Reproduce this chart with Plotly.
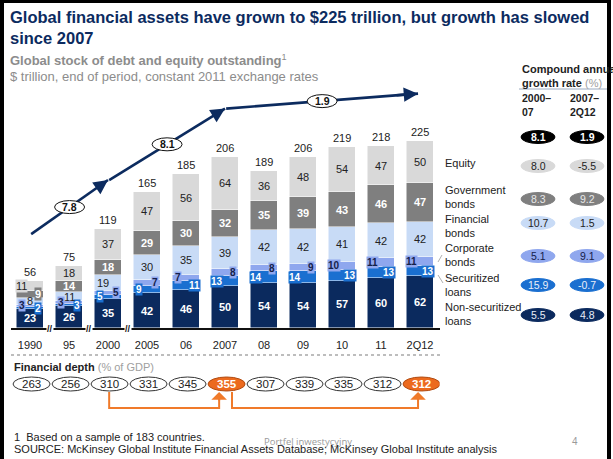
import plotly.graph_objects as go

W, H = 613, 459

# ---- data -------------------------------------------------------------
years = ["1990", "95", "2000", "2005", "06", "2007", "08", "09", "10", "11", "2Q12"]
totals = [56, 75, 119, 165, 185, 206, 189, 206, 219, 218, 225]

non_securitized = [23, 26, 35, 42, 46, 50, 54, 54, 57, 60, 62]
securitized = [2, 3, 5, 9, 11, 13, 14, 14, 13, 13, 13]
corporate = [3, 3, 5, 7, 7, 8, 8, 9, 10, 11, 11]
financial = [8, 11, 19, 30, 35, 39, 42, 42, 41, 42, 42]
government = [9, 14, 18, 29, 30, 32, 35, 39, 43, 46, 47]
equity = [11, 18, 37, 47, 56, 64, 36, 48, 54, 47, 50]

period_cagr = [7.8, 8.1, 1.9]          # 1990-2000, 2000-07, 2007-2Q12
period_bounds = [(0, 2), (2, 5), (5, 10)]

cagr_labels = ["Total", "Equity", "Government<br>bonds", "Financial<br>bonds",
               "Corporate<br>bonds", "Securitized<br>loans", "Non-securitized<br>loans"]
cagr_2000_07 = [8.1, 8.0, 8.3, 10.7, 5.1, 15.9, 5.5]
cagr_2007_2q12 = [1.9, -5.5, 9.2, 1.5, 9.1, -0.7, 4.8]

fin_depth = [263, 256, 310, 331, 345, 355, 307, 339, 335, 312, 312]
fin_depth_highlight = [5, 10]

# ---- styling ----------------------------------------------------------
FONT = "Liberation Sans, Arial, sans-serif"
NAVY = "#0c2b5f"
C_NON = "#0b2a5e"
C_SEC = "#1a6fd0"
C_CORP = "#8fa7ee"
C_FIN = "#c8dbf6"
C_GOV = "#7f7f7f"
C_EQ = "#d9d9d9"
ORANGE = "#ec6a1e"

series = [
    # name, values, colour, text colour, bold
    ("Non-securitized<br>loans", non_securitized, C_NON, "white", True),
    ("Securitized<br>loans", securitized, C_SEC, "white", True),
    ("Corporate<br>bonds", corporate, C_CORP, "#14204a", True),
    ("Financial<br>bonds", financial, C_FIN, "#222222", False),
    ("Government<br>bonds", government, C_GOV, "white", True),
    ("Equity", equity, C_EQ, "#222222", False),
]

# horizontal placement of segment labels (0 = centred, -1 left, +1 right)
sec_side = [1, 1, -1, -1, 1, -1, -1, -1, 1, 1, 1]
label_side = {
    "Non-securitized<br>loans": [0] * 11,
    "Securitized<br>loans": sec_side,
    "Corporate<br>bonds": [-s for s in sec_side],
    "Financial<br>bonds": [0, 0, -0.6, 0, 0, 0, 0, 0, 0, 0, 0],
    "Government<br>bonds": [1, 0, 0, 0, 0, 0, 0, 0, 0, 0, 0],
    "Equity": [-1, 0, 0, 0, 0, 0, 0, 0, 0, 0, 0],
}
boxed = {"Securitized<br>loans", "Corporate<br>bonds"}


def fx(px):
    return px / W


def fy(py):
    return 1 - py / H


BASE_PY = 328        # baseline of the bars (pixels from top)
TOP_PY = 90
PX_PER_UNIT = 187 / 225
Y_MAX = (BASE_PY - TOP_PY) / PX_PER_UNIT

fig = go.Figure()
xs = list(range(len(years)))
for name, vals, col, tcol, bold in series:
    fig.add_trace(go.Bar(
        x=xs, y=vals, name=name, width=0.69,
        marker=dict(color=col, line=dict(color="white", width=0.5)),
        hoverinfo="skip", showlegend=False,
    ))

annotations = []
shapes = []

# segment value labels
base = [0] * len(years)
for name, vals, col, tcol, bold in series:
    for i, v in enumerate(vals):
        side = label_side[name][i]
        yc = base[i] + v / 2
        txt = f"<b>{v}</b>" if bold else str(v)
        ann = dict(x=i + side * 0.21, y=yc, xref="x", yref="y", text=txt,
                   showarrow=False, font=dict(family=FONT, size=10 if name in boxed else 11, color=tcol))
        if name in boxed or (side != 0 and name != "Financial<br>bonds"):
            ann.update(bgcolor=col, borderpad=0)
        annotations.append(ann)
        base[i] += v

# totals above bars
for i, t in enumerate(totals):
    annotations.append(dict(x=i, y=base[i], xref="x", yref="y", text=str(t), showarrow=False,
                            yshift=9, font=dict(family=FONT, size=11, color="#222222")))

# axis breaks
for bx in [0.5, 1.5, 2.5]:
    annotations.append(dict(x=bx, y=0, xref="x", yref="y", text="<b>//</b>", showarrow=False,
                            bgcolor="white", borderpad=0, yshift=-1,
                            font=dict(family=FONT, size=9, color="#111111")))

# growth trend: lines, arrowheads and CAGR ovals
arrow_y = {0: 113, 2: 178, 5: 264, 10: 282}
for (a, b), g in zip(period_bounds, period_cagr):
    x0 = a + 0.03
    x1 = b - 0.05 if b == 10 else b
    y0, y1 = arrow_y[a], arrow_y[b]
    shapes.append(dict(type="line", xref="x", yref="y", x0=x0, y0=y0, x1=x1, y1=y1,
                       line=dict(color=NAVY, width=2.6), layer="above"))
    tx, ty = x1 - (x1 - x0) * 0.12, y1 - (y1 - y0) * 0.12
    annotations.append(dict(x=x1, y=y1, ax=tx, ay=ty, xref="x", yref="y", axref="x", ayref="y",
                            text="", showarrow=True, arrowhead=2, arrowsize=1.1, arrowwidth=2.6,
                            arrowcolor=NAVY, standoff=0, startstandoff=0))
    xm, ym = (x0 + x1) / 2, (y0 + y1) / 2
    hw, hh = 15 / 39, 6.5 / PX_PER_UNIT
    shapes.append(dict(type="circle", xref="x", yref="y", x0=xm - hw, x1=xm + hw,
                       y0=ym - hh, y1=ym + hh, fillcolor="white",
                       line=dict(color="#111111", width=1), layer="above"))
    annotations.append(dict(x=xm, y=ym, xref="x", yref="y", text=f"<b>{g}</b>", showarrow=False,
                            font=dict(family=FONT, size=10.5, color="#111111")))

# ---- titles -----------------------------------------------------------
annotations += [
    dict(x=fx(8), y=fy(17), xref="paper", yref="paper", xanchor="left",
         text="<b>Global financial assets have grown to $225 trillion, but growth has slowed</b>",
         showarrow=False, font=dict(family=FONT, size=16.5, color=NAVY)),
    dict(x=fx(8), y=fy(38), xref="paper", yref="paper", xanchor="left",
         text="<b>since 2007</b>", showarrow=False, font=dict(family=FONT, size=16.5, color=NAVY)),
    dict(x=fx(8), y=fy(60), xref="paper", yref="paper", xanchor="left",
         text="<b>Global stock of debt and equity outstanding</b><sup>1</sup>", showarrow=False,
         font=dict(family=FONT, size=13, color="#8c8c8c")),
    dict(x=fx(8), y=fy(76), xref="paper", yref="paper", xanchor="left",
         text="$ trillion, end of period, constant 2011 exchange rates", showarrow=False,
         font=dict(family=FONT, size=13, color="#8c8c8c")),
]

# ---- CAGR panel -------------------------------------------------------
annotations += [
    dict(x=fx(520), y=fy(76), xref="paper", yref="paper", xanchor="left",
         text="<b>Compound annual</b><br><b>growth rate</b> <span style='color:#a0a0a0'>(%)</span>",
         showarrow=False, align="left", font=dict(family=FONT, size=11, color="#222222")),
    dict(x=fx(520), y=fy(105), xref="paper", yref="paper", xanchor="left",
         text="<b>2000–</b><br><b>07</b>", showarrow=False, align="left",
         font=dict(family=FONT, size=10.5, color="#222222")),
    dict(x=fx(568), y=fy(105), xref="paper", yref="paper", xanchor="left",
         text="<b>2007–</b><br><b>2Q12</b>", showarrow=False, align="left",
         font=dict(family=FONT, size=10.5, color="#222222")),
]
shapes.append(dict(type="line", xref="paper", yref="paper", x0=fx(519), x1=fx(608),
                   y0=fy(89), y1=fy(89), line=dict(color="#9aaac0", width=1)))

row_py = [137, 166, 199, 223, 256, 285, 315]
label_py = [None, 163, 197, 226, 255, 285, 314]
row_fill = ["#000000", C_EQ, C_GOV, C_FIN, C_CORP, C_SEC, C_NON]
row_text = ["white", "#222222", "#e8e8e8", "#222222", "#14204a", "#e8eef8", "#e8eef8"]
col_px = [538, 587]
for r, (lab, a, b) in enumerate(zip(cagr_labels, cagr_2000_07, cagr_2007_2q12)):
    if label_py[r] is not None:
        annotations.append(dict(x=fx(443), y=fy(label_py[r]), xref="paper", yref="paper",
                                xanchor="left", align="left", text=lab,
                                showarrow=False, font=dict(family=FONT, size=11, color="#222222")))
    for cx, v in zip(col_px, (a, b)):
        shapes.append(dict(type="circle", xref="paper", yref="paper",
                           x0=fx(cx - 17), x1=fx(cx + 17), y0=fy(row_py[r] + 6.5), y1=fy(row_py[r] - 6.5),
                           fillcolor=row_fill[r], line=dict(color=row_fill[r], width=1)))
        txt = f"{v:.1f}"
        if r == 0:
            txt = f"<b>{txt}</b>"
        annotations.append(dict(x=fx(cx), y=fy(row_py[r]), xref="paper", yref="paper",
                                text=txt, showarrow=False,
                                font=dict(family=FONT, size=10.5, color=row_text[r])))

# leader lines from the small 2Q12 segments to their labels
shapes += [
    dict(type="line", xref="paper", yref="paper", x0=fx(438), y0=fy(262), x1=fx(442), y1=fy(255),
         line=dict(color="#9a9a9a", width=0.8)),
    dict(type="line", xref="paper", yref="paper", x0=fx(438), y0=fy(275), x1=fx(443), y1=fy(283),
         line=dict(color="#9a9a9a", width=0.8)),
]

# ---- financial depth row ---------------------------------------------
shapes.append(dict(type="line", xref="paper", yref="paper", x0=fx(11), x1=fx(443),
                   y0=fy(355), y1=fy(355), line=dict(color="#a8a8a8", width=1.5, dash="dot")))
annotations.append(dict(x=fx(12), y=fy(367), xref="paper", yref="paper", xanchor="left",
                        showarrow=False,
                        text="<b>Financial depth</b> <span style='color:#a0a0a0'>(% of GDP)</span>",
                        font=dict(family=FONT, size=11, color="#222222")))
OV_PY = 384
for i, d in enumerate(fin_depth):
    hi = i in fin_depth_highlight
    cx = i + 0.04
    shapes.append(dict(type="circle", xref="x", yref="paper", x0=cx - 0.475, x1=cx + 0.475,
                       y0=fy(OV_PY + 7), y1=fy(OV_PY - 7),
                       fillcolor=ORANGE if hi else "white",
                       line=dict(color="#b04a10" if hi else "#333333", width=1)))
    annotations.append(dict(x=cx, y=fy(OV_PY), xref="x", yref="paper", showarrow=False,
                            text=f"<b>{d}</b>" if hi else str(d),
                            font=dict(family=FONT, size=11.5, color="white" if hi else "#222222")))

# connectors 2000 -> 2007 -> 2Q12
LINE_OR = "#f07a2a"
for xa, xb in [(2.03, 4.85), (5.18, 9.95)]:
    shapes.append(dict(type="path", xref="x", yref="paper",
                       path=f"M {xa},{fy(392)} L {xa},{fy(408)} L {xb},{fy(408)} L {xb},{fy(396)}",
                       line=dict(color=LINE_OR, width=2)))
    annotations.append(dict(x=xb, y=fy(392), xref="x", yref="paper", ax=0, ay=10, text="",
                            showarrow=True, arrowhead=1, arrowsize=1.3, arrowwidth=2,
                            arrowcolor=LINE_OR, standoff=0))

# ---- footer -----------------------------------------------------------
annotations += [
    dict(x=fx(12), y=fy(437), xref="paper", yref="paper", xanchor="left",
         text="1  Based on a sample of 183 countries.", showarrow=False,
         font=dict(family=FONT, size=11, color="#222222")),
    dict(x=fx(12), y=fy(449), xref="paper", yref="paper", xanchor="left",
         text="SOURCE: McKinsey Global Institute Financial Assets Database; McKinsey Global Institute analysis",
         showarrow=False, font=dict(family=FONT, size=11, color="#222222")),
    dict(x=fx(308), y=fy(441), xref="paper", yref="paper", showarrow=False,
         text="Portfel inwestycyjny", font=dict(family="Open Sans, sans-serif", size=9.5, color="#9a9a9a")),
    dict(x=fx(575), y=fy(441), xref="paper", yref="paper", showarrow=False,
         text="4", font=dict(family=FONT, size=10, color="#9a9a9a")),
]

# anchor every text at its given point
for ann in annotations:
    ann.setdefault("xanchor", "center")
    ann.setdefault("yanchor", "middle")

# slide frame
for x0, x1, y0, y1 in [(0, 4, 0, H), (0, 611, 0, 3), (607, 611, 0, H)]:
    shapes.append(dict(type="rect", xref="paper", yref="paper", x0=fx(x0), x1=fx(x1),
                       y0=fy(y1), y1=fy(y0), fillcolor="black", line=dict(width=0), layer="above"))

fig.update_layout(
    width=W, height=H, margin=dict(l=0, r=0, t=0, b=0),
    paper_bgcolor="white", plot_bgcolor="white",
    barmode="stack", bargap=0,
    xaxis=dict(domain=[fx(10.5), fx(439.5)], range=[-0.5, 10.5], tickmode="array",
               tickvals=xs, ticktext=years, showgrid=False, zeroline=False,
               showline=True, linecolor="#111111", linewidth=2,
               ticks="outside", ticklen=6, tickcolor="rgba(0,0,0,0)",
               tickfont=dict(family=FONT, size=11, color="#222222"), fixedrange=True),
    yaxis=dict(domain=[fy(BASE_PY), fy(TOP_PY)], range=[0, Y_MAX], visible=False, fixedrange=True),
    annotations=annotations, shapes=shapes,
    font=dict(family=FONT),
)

fig.write_html("out.html")
